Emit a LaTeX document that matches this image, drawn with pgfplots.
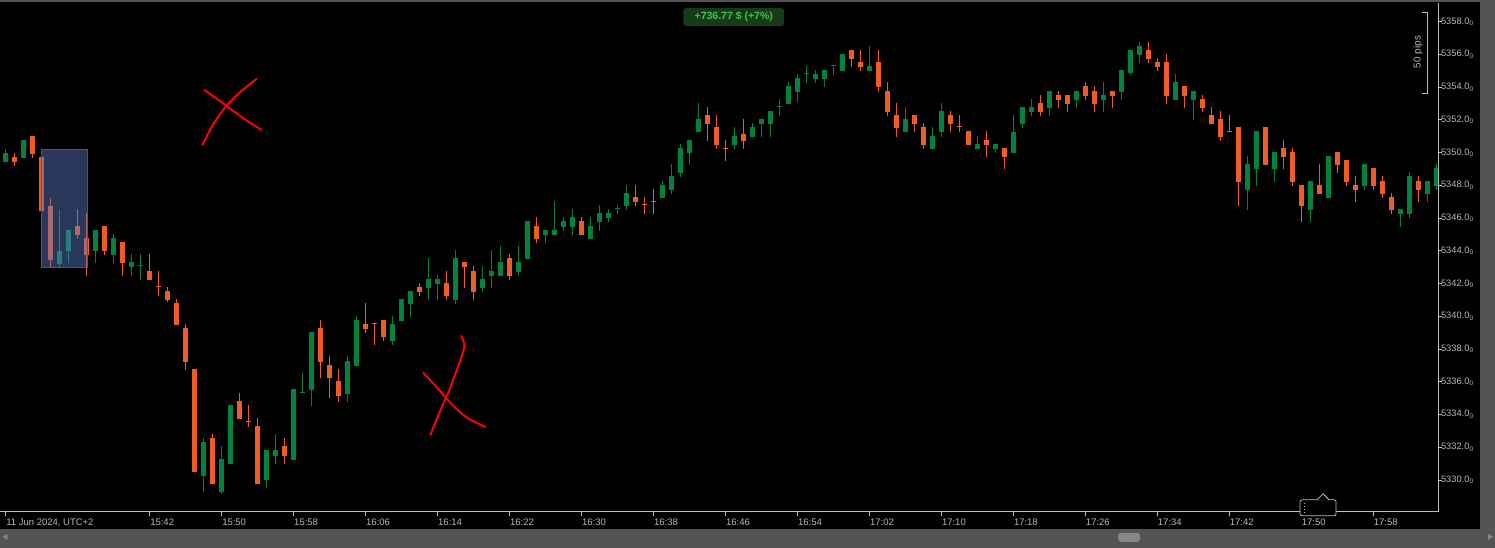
\documentclass[border=0pt]{standalone}
\usepackage{fontspec}
\setmainfont{Liberation Sans}
\usepackage{pgfplots}
\usepackage{pgfplotstable}
\pgfplotsset{compat=1.18}

\definecolor{cgreen}{RGB}{0,132,61}
\definecolor{corange}{RGB}{241,91,36}
\definecolor{boxblue}{RGB}{89,124,200}
\definecolor{boxedge}{RGB}{70,88,125}
\definecolor{axisgrey}{RGB}{190,190,190}
\definecolor{labelgrey}{RGB}{185,185,185}
\definecolor{panelgrey}{RGB}{84,84,84}
\definecolor{thumbgrey}{RGB}{135,135,135}
\definecolor{badgebg}{RGB}{22,58,26}
\definecolor{badgetext}{RGB}{60,200,70}

% 1-minute candles, i = minutes after 15:26
\pgfplotstableread{
i o h l c
0 5349.43 5350.22 5349.43 5349.97
2 5349.67 5350.77 5349.67 5350.77
6 5343.19 5346.49 5342.95 5343.99
7 5343.99 5345.27 5343.25 5345.27
10 5343.99 5345.27 5343.25 5345.27
12 5343.74 5345.03 5343.25 5344.78
14 5343.01 5343.80 5342.46 5343.31
15 5343.07 5343.80 5342.22 5343.07
22 5330.24 5332.57 5329.27 5332.32
24 5329.27 5332.08 5329.15 5331.28
25 5330.98 5334.58 5330.98 5334.58
29 5330.00 5331.83 5329.51 5331.83
30 5331.47 5332.81 5330.98 5331.83
32 5331.22 5335.56 5331.22 5335.56
33 5335.30 5336.54 5335.30 5335.30
34 5335.50 5339.04 5334.52 5339.04
38 5335.25 5337.58 5334.76 5337.27
39 5336.97 5340.02 5336.97 5339.78
43 5338.49 5340.02 5338.25 5339.53
44 5339.71 5341.06 5339.71 5341.06
45 5340.75 5341.55 5339.96 5341.55
47 5341.73 5343.56 5341.00 5342.28
48 5341.97 5342.53 5341.00 5342.28
50 5341.00 5344.05 5340.75 5343.56
53 5341.73 5343.07 5341.49 5342.28
54 5342.46 5344.05 5341.73 5342.77
55 5342.46 5344.30 5342.46 5343.32
57 5342.71 5344.30 5342.46 5343.32
58 5343.50 5345.83 5343.50 5345.83
60 5344.97 5345.27 5344.48 5345.27
61 5344.97 5347.05 5344.97 5345.27
62 5345.46 5346.07 5345.21 5345.83
63 5345.46 5346.56 5344.97 5346.07
65 5344.72 5346.07 5344.72 5345.52
66 5345.76 5346.80 5345.21 5346.31
67 5346.01 5346.56 5345.76 5346.31
68 5346.56 5346.80 5346.25 5346.56
69 5346.74 5348.02 5346.50 5347.53
73 5347.23 5348.27 5347.23 5348.02
74 5347.72 5349.31 5347.47 5348.57
75 5348.76 5350.53 5348.51 5350.28
76 5349.98 5350.77 5349.25 5350.77
77 5351.26 5353.03 5351.26 5352.06
81 5350.47 5351.57 5350.22 5351.02
83 5350.96 5351.81 5350.96 5351.57
84 5351.75 5352.06 5350.96 5352.06
85 5351.75 5352.55 5350.96 5352.55
86 5352.79 5353.28 5352.24 5352.79
87 5352.97 5354.32 5352.97 5354.07
88 5353.70 5354.80 5353.09 5354.56
89 5354.78 5355.29 5354.27 5354.78
90 5354.50 5355.05 5354.27 5354.80
91 5354.50 5355.05 5354.01 5355.05
92 5355.27 5355.27 5354.74 5355.27
93 5354.99 5356.03 5354.99 5356.03
96 5354.99 5356.52 5354.99 5355.29
100 5351.26 5352.79 5351.26 5352.05
103 5350.22 5351.56 5350.22 5351.01
104 5351.26 5353.03 5350.95 5352.54
108 5350.22 5351.02 5350.22 5350.53
110 5350.22 5350.53 5349.98 5350.53
112 5349.98 5352.30 5349.98 5351.26
113 5351.75 5352.79 5351.51 5352.79
114 5352.48 5353.28 5352.24 5352.79
116 5352.73 5353.77 5352.24 5353.77
119 5353.22 5353.77 5352.73 5353.77
122 5353.22 5354.32 5352.48 5353.52
124 5353.70 5355.05 5353.22 5355.05
125 5354.87 5356.27 5354.74 5356.27
126 5355.97 5356.76 5355.48 5356.52
130 5353.22 5354.81 5353.22 5354.32
132 5353.22 5353.77 5352.00 5353.77
138 5347.72 5349.80 5346.50 5349.31
139 5349.00 5351.32 5347.97 5351.32
141 5349.00 5350.04 5348.21 5350.04
145 5346.50 5348.27 5345.76 5348.27
147 5347.23 5349.80 5347.23 5349.80
151 5347.96 5349.31 5347.72 5349.31
155 5346.25 5346.56 5345.46 5346.56
156 5346.25 5348.82 5346.01 5348.57
158 5347.47 5348.27 5346.98 5348.27
159 5347.96 5349.30 5347.72 5349.06
}\upcandles

\pgfplotstableread{
i o h l c
1 5349.73 5349.97 5349.18 5349.43
3 5351.01 5351.01 5349.67 5349.91
4 5349.73 5350.10 5346.19 5346.43
5 5346.74 5347.23 5342.95 5343.44
8 5345.51 5346.55 5344.72 5344.96
9 5344.78 5346.31 5342.46 5343.74
11 5345.51 5345.51 5343.74 5343.99
13 5344.54 5344.54 5342.46 5343.25
16 5342.77 5343.80 5342.22 5342.22
17 5341.80 5342.77 5341.24 5341.78
18 5341.54 5341.79 5340.90 5341.00
19 5340.82 5341.06 5339.47 5339.47
20 5339.29 5339.53 5336.72 5337.21
21 5336.78 5336.78 5330.49 5330.49
23 5332.57 5332.81 5329.75 5329.75
26 5334.83 5335.32 5333.73 5333.73
27 5333.55 5334.58 5333.24 5333.52
28 5333.30 5333.79 5329.75 5329.75
31 5332.08 5332.57 5330.98 5331.47
35 5339.29 5339.78 5336.23 5337.21
36 5337.03 5337.58 5335.01 5336.23
37 5336.05 5336.78 5334.76 5335.13
40 5339.53 5340.81 5338.98 5339.22
41 5339.53 5339.53 5338.25 5339.50
42 5339.78 5339.78 5338.49 5338.74
46 5341.79 5342.04 5341.24 5341.49
49 5342.04 5342.77 5341.00 5341.24
51 5343.32 5343.32 5341.73 5343.01
52 5342.77 5343.07 5341.00 5341.49
56 5343.56 5343.81 5342.22 5342.46
59 5345.52 5346.07 5344.48 5344.72
64 5345.83 5346.07 5344.97 5344.97
70 5347.29 5348.02 5346.74 5346.99
71 5346.80 5347.29 5346.25 5346.78
72 5347.03 5347.78 5346.25 5347.00
78 5352.30 5352.79 5350.71 5351.75
79 5351.57 5352.30 5350.22 5350.47
80 5350.27 5350.77 5349.49 5350.24
82 5351.14 5352.06 5350.22 5350.71
94 5356.27 5356.27 5355.23 5355.72
95 5355.54 5356.27 5354.99 5355.23
97 5355.54 5356.27 5353.70 5354.01
98 5353.77 5354.32 5352.24 5352.48
99 5352.30 5353.03 5350.95 5351.50
101 5352.30 5352.30 5351.26 5351.75
102 5351.56 5351.81 5350.22 5350.46
105 5352.30 5352.54 5351.26 5351.75
106 5351.56 5352.30 5351.26 5351.54
107 5351.32 5351.32 5350.47 5350.47
109 5350.77 5351.32 5349.73 5350.47
111 5350.28 5350.28 5349.00 5349.73
115 5353.03 5353.52 5352.24 5352.48
117 5353.52 5353.77 5352.73 5353.22
118 5353.52 5353.52 5352.48 5352.97
120 5354.07 5354.32 5353.22 5353.46
121 5353.77 5354.07 5352.48 5352.97
123 5353.77 5353.77 5352.73 5353.46
127 5356.27 5356.76 5355.48 5355.72
128 5355.54 5355.78 5354.99 5355.23
129 5355.54 5356.03 5352.97 5353.46
131 5354.07 5354.07 5352.73 5353.46
133 5353.28 5353.52 5352.48 5352.73
134 5352.30 5352.79 5351.75 5351.75
135 5352.06 5352.54 5350.71 5350.96
136 5351.30 5352.30 5351.27 5351.27
137 5351.57 5351.57 5346.74 5348.21
140 5351.57 5351.57 5349.25 5349.25
142 5350.29 5350.77 5349.00 5349.73
143 5350.04 5350.29 5347.96 5348.21
144 5348.02 5348.02 5345.76 5346.74
146 5348.02 5349.31 5347.47 5347.47
148 5350.04 5350.04 5348.76 5349.25
149 5349.55 5349.55 5347.96 5348.21
150 5348.02 5348.57 5346.98 5347.72
152 5349.06 5349.06 5347.72 5347.96
153 5348.27 5348.57 5347.23 5347.47
154 5347.29 5347.53 5346.25 5346.50
157 5348.27 5348.57 5346.98 5347.72
}\downcandles

\pgfplotsset{
  wick/.style={draw=none, mark=none, forget plot,
    error bars/y dir=plus, error bars/y explicit, error bars/error mark=none,
    error bars/error bar style={draw=#1, line width=1pt}},
  body/.style={draw=none, mark=none, forget plot,
    error bars/y dir=plus, error bars/y explicit, error bars/error mark=none,
    error bars/error bar style={draw=#1, line width=5pt}},
}

\begin{document}
\begin{tikzpicture}
% window frame
\fill[panelgrey] (0pt,0pt) rectangle (1495pt,548pt);
\fill[black] (0pt,19pt) rectangle (1480pt,546pt);
\fill[thumbgrey, rounded corners=3pt] (1118pt,6pt) rectangle (1140pt,15pt);
\fill[thumbgrey] (2pt,11pt) -- (7pt,14pt) -- (7pt,8pt) -- cycle;
\fill[thumbgrey] (1493pt,11pt) -- (1488pt,14pt) -- (1488pt,8pt) -- cycle;

\begin{axis}[
  at={(0pt,36pt)}, anchor=south west,
  scale only axis, width=1438pt, height=509pt,
  xmin=-0.589, xmax=159.19, ymin=5328.05, ymax=5359.14,
  axis x line=bottom, axis y line=right,
  axis line style={-, draw=axisgrey, line width=1pt},
  tick align=outside, major tick length=4pt,
  tick style={draw=axisgrey, line width=0.8pt},
  xtick={0,16,24,32,40,48,56,64,72,80,88,96,104,112,120,128,136,144,152},
  xticklabels={{11 Jun 2024, UTC+2},15:42,15:50,15:58,16:06,16:14,16:22,16:30,16:38,16:46,16:54,17:02,17:10,17:18,17:26,17:34,17:42,17:50,17:58},
  ytick={5330,5332,5334,5336,5338,5340,5342,5344,5346,5348,5350,5352,5354,5356,5358},
  yticklabels={5330.0\textsubscript{0},5332.0\textsubscript{0},5334.0\textsubscript{0},5336.0\textsubscript{0},5338.0\textsubscript{0},5340.0\textsubscript{0},5342.0\textsubscript{0},5344.0\textsubscript{0},5346.0\textsubscript{0},5348.0\textsubscript{0},5350.0\textsubscript{0},5352.0\textsubscript{0},5354.0\textsubscript{0},5356.0\textsubscript{0},5358.0\textsubscript{0}},
  tick label style={text=labelgrey},
  xticklabel style={anchor=north west, font=\fontsize{9.5}{11}\selectfont, xshift=-3pt},
  yticklabel style={anchor=west, font=\fontsize{9.3}{11}\selectfont, xshift=-4.5pt},
]
% wicks
\addplot[wick=cgreen] table[x=i, y=l, y error plus expr=\thisrow{h}-\thisrow{l}] {\upcandles};
\addplot[wick=corange] table[x=i, y=l, y error plus expr=\thisrow{h}-\thisrow{l}] {\downcandles};
% bodies
\addplot[body=cgreen] table[x=i, y expr={min(\thisrow{o},\thisrow{c})},
  y error plus expr={max(abs(\thisrow{c}-\thisrow{o}),0.07)}] {\upcandles};
\addplot[body=corange] table[x=i, y expr={min(\thisrow{o},\thisrow{c})},
  y error plus expr={max(abs(\thisrow{c}-\thisrow{o}),0.07)}] {\downcandles};

% selection box
\draw[boxedge, line width=1pt, fill=boxblue, fill opacity=0.45]
  (axis cs:3.97,5342.95) rectangle (axis cs:9.08,5350.16);

% hand-drawn red crosses
\addplot[red, line width=2pt, smooth, line cap=round, forget plot] coordinates {
  (22.08,5353.83) (23.63,5353.22) (25.30,5352.54) (26.86,5351.93) (28.41,5351.39)};
\addplot[red, line width=2pt, smooth, line cap=round, forget plot] coordinates {
  (27.86,5354.50) (26.08,5353.71) (24.52,5352.85) (23.08,5351.75) (21.86,5350.47)};
\addplot[red, line width=2pt, smooth, line cap=round, forget plot] coordinates {
  (50.63,5338.80) (50.97,5338.19) (50.41,5337.15) (49.30,5335.50) (48.19,5334.10) (47.19,5332.75)};
\addplot[red, line width=2pt, smooth, line cap=round, forget plot] coordinates {
  (46.41,5336.54) (47.97,5335.62) (49.63,5334.59) (51.30,5333.79) (53.30,5333.24)};
\end{axis}

% profit badge
\node[fill=badgebg, rounded corners=3pt, text=badgetext, inner xsep=5pt,
  minimum height=18pt, minimum width=101pt, font=\bfseries\fontsize{10.5}{12}\selectfont] at (733.5pt,531pt) {+736.77 \$ (+7\%)};

% 50 pips ruler
\draw[axisgrey, line width=0.8pt] (1422pt,536pt) -- (1427pt,536pt) -- (1427pt,455pt) -- (1422pt,455pt);
\node[rotate=90, text=labelgrey, font=\fontsize{10}{11}\selectfont] at (1418pt,496pt) {50 pips};

% time cursor marker
\draw[axisgrey, fill=black, rounded corners=2pt, line width=0.8pt] (1300pt,32pt) rectangle (1336pt,48pt);
\draw[axisgrey, fill=black, line width=0.8pt] (1317pt,48pt) -- (1323pt,54pt) -- (1329pt,48pt);
\draw[axisgrey, line width=1pt, dotted] (1304pt,35pt) -- (1304pt,45pt);
\end{tikzpicture}
\end{document}
